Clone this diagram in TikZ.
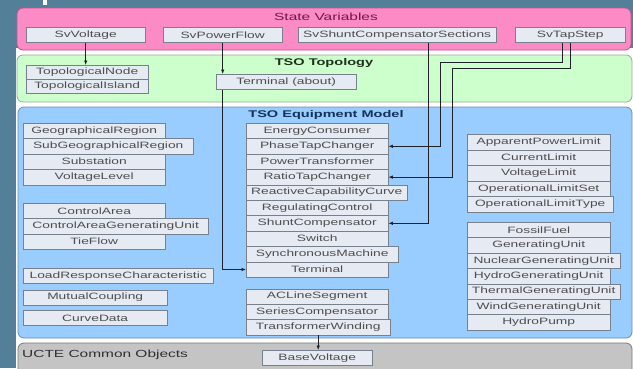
\documentclass[tikz,border=0pt]{standalone}
\usepackage{fontspec}
\setmainfont{Liberation Sans}[FakeStretch=1.5]
\usetikzlibrary{arrows.meta}
\definecolor{slate}{RGB}{84,127,152}
\definecolor{svfill}{RGB}{252,138,196}
\definecolor{svline}{RGB}{196,84,138}
\definecolor{topofill}{RGB}{204,255,204}
\definecolor{topoline}{RGB}{150,170,150}
\definecolor{eqfill}{RGB}{153,204,255}
\definecolor{eqline}{RGB}{110,140,175}
\definecolor{ucfill}{RGB}{196,196,196}
\definecolor{ucline}{RGB}{120,120,120}
\definecolor{clsfill}{RGB}{230,234,243}
\definecolor{clsline}{RGB}{120,128,140}
\definecolor{clstext}{RGB}{78,78,78}
\newcommand{\clsfont}{\fontsize{9.2}{10}\selectfont}
\begin{document}
\begin{tikzpicture}[x=1pt,y=-1pt,
    cls/.style={draw=clsline,fill=clsfill,text=clstext,font=\clsfont,
      anchor=north west,inner sep=0pt,minimum height=15.4pt},
    panel/.style={rounded corners=6pt,line width=0.8pt},
    >={Latex[length=4.5pt,width=3.5pt]}]
  \useasboundingbox (0,0) rectangle (633,368);
  \fill[slate] (0,0) rectangle (633,368);
  \fill[white] (16,48) rectangle (633,368);
  \fill[white] (43,0) rectangle (47,5);
  % packages
  \draw[panel,fill=svfill,draw=svline] (17,8) rectangle (631,50);
  \draw[panel,fill=topofill,draw=topoline] (17,55) rectangle (632,102);
  \draw[panel,fill=eqfill,draw=eqline] (18,107) rectangle (632,338);
  \draw[panel,fill=ucfill,draw=ucline] (18,343) rectangle (632,380);
  \path
    (326,17) node[text={rgb,255:red,110;green,25;blue,75},font=\fontsize{10.3}{12}\selectfont] (svtitle) {State Variables}
    (324,63) node[text={rgb,255:red,30;green,50;blue,30},font=\fontsize{9.7}{12}\selectfont\bfseries] (topotitle) {TSO Topology}
    (326,115) node[text={rgb,255:red,20;green,50;blue,90},font=\fontsize{9.7}{12}\selectfont\bfseries] (eqtitle) {TSO Equipment Model}
    (22,355) node[anchor=west,inner sep=0pt,text={rgb,255:red,48;green,48;blue,48},font=\fontsize{10.3}{12}\selectfont] (uctitle) {UCTE Common Objects};
  % state variables
  \path
    (26,27) node[cls,minimum width=119] (svv) {SvVoltage}
    (163,27) node[cls,minimum width=119] (svpf) {SvPowerFlow}
    (298,27) node[cls,minimum width=198] (svsc) {SvShuntCompensatorSections}
    (515,27) node[cls,minimum width=110] (svts) {SvTapStep};
  % topology
  \path
    (26,65) node[cls,minimum width=122,minimum height=14pt] (tnode) {TopologicalNode}
    (26,79) node[cls,minimum width=122,minimum height=14pt] (tisl) {TopologicalIsland}
    (216,74) node[cls,minimum width=140] (tabout) {Terminal (about)};
  % equipment, left column
  \path
    (23,123) node[cls,minimum width=142] (geo) {GeographicalRegion}
    (23,138.4) node[cls,minimum width=170] (subgeo) {SubGeographicalRegion}
    (23,153.8) node[cls,minimum width=142] (subst) {Substation}
    (23,169.2) node[cls,minimum width=142] (vlev) {VoltageLevel}
    (23,203) node[cls,minimum width=142] (carea) {ControlArea}
    (23,218.4) node[cls,minimum width=185] (cagu) {ControlAreaGeneratingUnit}
    (23,233.8) node[cls,minimum width=142] (tie) {TieFlow}
    (23,268) node[cls,minimum width=190] (lrc) {LoadResponseCharacteristic}
    (23,289.5) node[cls,minimum width=144] (mcoup) {MutualCoupling}
    (23,310) node[cls,minimum width=144] (cdata) {CurveData};
  % equipment, middle column
  \path
    (246,123) node[cls,minimum width=142] (econs) {EnergyConsumer}
    (246,138.4) node[cls,minimum width=142] (ptc) {PhaseTapChanger}
    (246,153.8) node[cls,minimum width=142] (ptr) {PowerTransformer}
    (246,169.2) node[cls,minimum width=142] (rtc) {RatioTapChanger}
    (246,184.6) node[cls,minimum width=161] (rcc) {ReactiveCapabilityCurve}
    (246,200) node[cls,minimum width=142] (rctl) {RegulatingControl}
    (246,215.4) node[cls,minimum width=142] (shc) {ShuntCompensator}
    (246,230.8) node[cls,minimum width=142] (sw) {Switch}
    (246,246.2) node[cls,minimum width=152] (sm) {SynchronousMachine}
    (246,261.6) node[cls,minimum width=142] (term) {Terminal}
    (246,288.5) node[cls,minimum width=142] (acl) {ACLineSegment}
    (246,303.9) node[cls,minimum width=142] (serc) {SeriesCompensator}
    (246,319.3) node[cls,minimum width=144] (tw) {TransformerWinding};
  % equipment, right column
  \path
    (467,134) node[cls,minimum width=143,minimum height=15.6pt] (apl) {ApparentPowerLimit}
    (467,149.6) node[cls,minimum width=143,minimum height=15.6pt] (clim) {CurrentLimit}
    (467,165.2) node[cls,minimum width=143,minimum height=15.6pt] (vlim) {VoltageLimit}
    (467,180.8) node[cls,minimum width=143,minimum height=15.6pt] (ols) {OperationalLimitSet}
    (467,196.4) node[cls,minimum width=146,minimum height=15.6pt] (olt) {OperationalLimitType}
    (467,222) node[cls,minimum width=143] (ff) {FossilFuel}
    (467,237.4) node[cls,minimum width=143] (gu) {GeneratingUnit}
    (467,252.8) node[cls,minimum width=153] (ngu) {NuclearGeneratingUnit}
    (467,268.2) node[cls,minimum width=143] (hgu) {HydroGeneratingUnit}
    (467,283.6) node[cls,minimum width=153] (tgu) {ThermalGeneratingUnit}
    (467,299) node[cls,minimum width=143] (wgu) {WindGeneratingUnit}
    (467,314.4) node[cls,minimum width=143] (hp) {HydroPump};
  % common objects
  \path
    (262,350) node[cls,minimum width=110] (bv) {BaseVoltage};
  \coordinate (bendA) at (440,62);
  \coordinate (bendB) at (452,68);
  \begin{scope}[->,line width=0.7pt,draw={rgb,255:red,30;green,34;blue,40}]
    \draw (svv.south) to (svv.south |- tnode.north);
    \draw (svpf.south) to (svpf.south |- tabout.north);
    \draw (svpf.south |- tabout.south) |- (term.west);
    \draw ([xshift=31pt]svsc.south) |- (shc.east);
    \draw ([xshift=-8pt]svts.south) |- (bendA) |- (ptc.east);
    \draw (svts.south) |- (bendB) |- (rtc.east);
    \draw (tw.south) to (tw.south |- bv.north);
  \end{scope}
\end{tikzpicture}
\end{document}
